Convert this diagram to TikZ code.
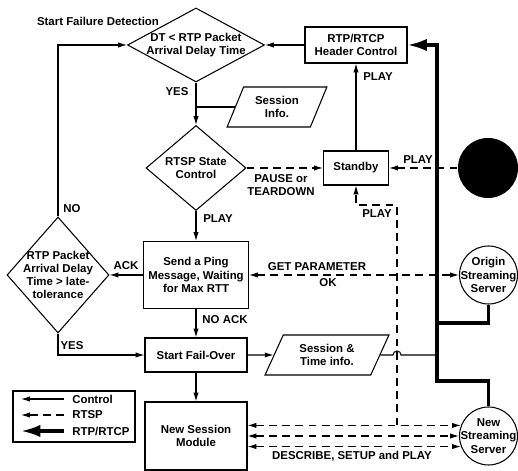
\documentclass[tikz,border=0pt]{standalone}
\usepackage{fontspec}
\setmainfont{Liberation Sans}
\usetikzlibrary{arrows.meta,positioning,shapes.geometric}

\begin{document}
\begin{tikzpicture}[line width=0.6pt,
  font=\fontsize{6.5}{7.5}\selectfont\bfseries,
  procbox/.style={draw,align=center,inner sep=1pt},
  decide/.style={draw,diamond,align=center,inner sep=-3pt},
  datafile/.style={draw,trapezium,trapezium stretches=true,align=center,inner sep=1pt},
  server/.style={draw,circle,align=center,inner sep=-3pt,minimum size=1.16cm},
  lbl/.style={inner sep=1pt},
  ctrl/.style={-{Latex[length=5pt,width=3pt]}},
  both/.style={{Latex[length=5pt,width=3pt]}-{Latex[length=5pt,width=3pt]}},
  rtsp/.style={dash pattern=on 4.5pt off 3pt},
  rtp/.style={line width=1.8pt}]
  \useasboundingbox (0,0) rectangle (10.36,9.42);
  % Title
  \node[lbl] (title) at (1.96,9.00) {Start Failure Detection};
  % Top row
  \node[decide,aspect=1.85,minimum width=2.74cm,minimum height=1.48cm] (dt) at (3.92,8.52) {DT < RTP Packet\\Arrival Delay Time};
  \node[procbox,minimum width=2.04cm,minimum height=0.72cm] (hdr) at (7.12,8.52) {RTP/RTCP\\Header Control};
  \node[datafile,trapezium left angle=65,trapezium right angle=115,minimum width=2.0cm,minimum height=0.8cm] (sinfo) at (5.54,7.28) {Session\\Info.};
  % RTSP state
  \node[decide,aspect=1.18,minimum width=2.0cm,minimum height=1.7cm] (dts) at (3.92,6.06) {RTSP State\\Control};
  \node[procbox,minimum width=1.30cm,minimum height=0.68cm] (stby) at (7.12,6.06) {Standby};
  \node[circle,fill=black,minimum size=1.2cm] (blk) at (9.76,6.06) {};
  % Ping
  \node[procbox,minimum width=2.1cm,minimum height=1.34cm] (ping) at (3.92,3.92) {Send a Ping\\Message, Waiting\\for Max RTT};
  \node[decide,aspect=0.88,minimum width=2.04cm,minimum height=2.32cm] (dlt) at (1.16,3.92) {RTP Packet\\Arrival Delay\\Time > late-\\tolerance};
  \node[server] (origin) at (9.77,3.92) {Origin\\Streaming\\Server};
  % Fail-over
  \node[procbox,minimum width=2.04cm,minimum height=0.68cm] (sfo) at (3.92,2.32) {Start Fail-Over};
  \node[datafile,trapezium left angle=64,trapezium right angle=116,minimum width=2.48cm,minimum height=0.8cm] (sti) at (6.54,2.32) {Session \&\\Time info.};
  \node[procbox,minimum width=2.04cm,minimum height=1.36cm] (nsm) at (3.92,0.70) {New Session\\Module};
  \node[server] (newsrv) at (9.77,0.70) {New\\Streaming\\Server};
  % Legend
  \node[draw,minimum width=2.44cm,minimum height=1.02cm] (legend) at (1.48,1.09) {};
  \node[lbl,anchor=west] (lgctrl) at (1.40,1.44) {Control};
  \node[lbl,anchor=west] (lgrtsp) at (1.40,1.12) {RTSP};
  \node[lbl,anchor=west] (lgrtp) at (1.40,0.80) {RTP/RTCP};
  \draw[ctrl] ([xshift=-0.12cm]lgctrl.west) -- ++(-0.86,0);
  \draw[rtsp,ctrl] ([xshift=-0.12cm]lgrtsp.west) -- ++(-0.86,0);
  \draw[rtp,-{Latex[length=11pt,width=7pt]}] ([xshift=-0.12cm]lgrtp.west) -- ++(-0.86,0);
  % Labels
  \node[lbl] (yes1) at (3.54,7.58) {YES};
  \node[lbl,align=center] (pause) at (5.62,5.72) {PAUSE or\\TEARDOWN};
  \node[lbl] (play1) at (7.56,7.88) {PLAY};
  \node[lbl] (play2) at (8.36,6.22) {PLAY};
  \node[lbl] (play3) at (4.36,5.04) {PLAY};
  \node[lbl] (play4) at (7.54,5.14) {PLAY};
  \node[lbl] (no) at (1.44,5.24) {NO};
  \node[lbl] (ack) at (2.52,4.10) {ACK};
  \node[lbl] (getp) at (6.34,4.08) {GET PARAMETER};
  \node[lbl] (ok) at (6.56,3.76) {OK};
  \node[lbl] (noack) at (4.50,3.02) {NO ACK};
  \node[lbl] (yes2) at (1.44,2.50) {YES};
  \node[lbl] (desc) at (7.04,0.30) {DESCRIBE, SETUP and PLAY};
  % Bus points
  \coordinate (bus) at (8.74,1.80);
  \coordinate (busm) at (8.74,2.96);
  \coordinate (tap) at (7.94,0.91);
  \coordinate (tapt) at (7.94,5.32);
  % Control arrows
  \draw[ctrl] (hdr) -- (dt);
  \draw[ctrl] (dt) -- (dts);
  \draw (dt.south |- sinfo.west) -- (sinfo.west);
  \draw[ctrl] (stby) -- (hdr);
  \draw[ctrl] (dts) -- (ping);
  \draw[ctrl] (ping) -- (dlt);
  \draw[ctrl] (dlt.north) |- (dt.west);
  \draw[ctrl] (ping) -- (sfo);
  \draw[ctrl] (dlt.south) |- (sfo.west);
  \draw[ctrl] (sfo) -- (sti);
  \draw[ctrl] (sfo) -- (nsm);
  \draw (sti.east) -- ([xshift=-0.08cm]tap |- sti.east) arc[start angle=180,end angle=0,radius=0.08cm] -- (bus |- sti.east);
  % RTSP arrows
  \draw[rtsp,ctrl] (dts) -- (stby);
  \draw[rtsp,ctrl] (blk) -- (stby);
  \draw[rtsp,both] (ping) -- (origin);
  \draw[rtsp,ctrl] (tap) -- (tapt) -| (stby.south);
  \draw[rtsp,both] (nsm.east |- newsrv.159) -- (newsrv.159);
  \draw[rtsp,both] (nsm) -- (newsrv);
  \draw[rtsp,both] (nsm.east |- newsrv.201) -- (newsrv.201);
  % RTP/RTCP
  \draw[rtp,-{Latex[length=11pt,width=7pt]}] (newsrv.north) |- (bus) |- (hdr.east);
  \draw[rtp] (origin.south) |- (busm);
\end{tikzpicture}
\end{document}
